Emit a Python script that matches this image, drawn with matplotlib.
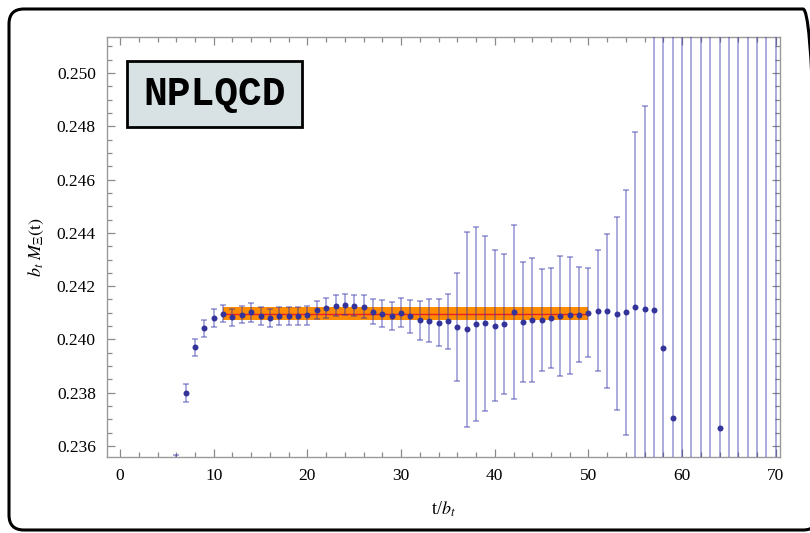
#!/usr/bin/env python
# coding: utf-8
"""
Effective mass plot b_t M_Xi(t) vs t/b_t with the fitted plateau band
"""

import matplotlib.pyplot as plt
import matplotlib as mpl
from matplotlib.patches import FancyBboxPatch, Rectangle
import numpy as np

# data
t_values = list(range(6, 71))
meff = [0.2352, 0.23800, 0.23971, 0.24042, 0.24081, 0.24097, 0.24083, 0.24093, 0.24102, 0.24089,
        0.24082, 0.24089, 0.24088, 0.24088, 0.24090, 0.24110, 0.24117, 0.24126, 0.24130, 0.24127,
        0.24123, 0.24104, 0.24096, 0.24088, 0.24101, 0.24087, 0.24072, 0.24070, 0.24063, 0.24068,
        0.24046, 0.24038, 0.24058, 0.24061, 0.24052, 0.24059, 0.24103, 0.24066, 0.24073, 0.24073,
        0.24082, 0.24089, 0.24091, 0.24093, 0.24100, 0.24107, 0.24107, 0.24097, 0.24102, 0.24120,
        0.24115, 0.24110, 0.23967, 0.23707, 0.2300, 0.2285, 0.2310, 0.2330, 0.23669, 0.2320,
        0.2290, 0.2300, 0.2280, 0.2310, 0.2290]
meff_err = [0.00045, 0.00033, 0.00032, 0.00032, 0.00033, 0.00033, 0.00033, 0.00033, 0.00035, 0.00034,
            0.00034, 0.00034, 0.00034, 0.00034, 0.00036, 0.00034, 0.00037, 0.00039, 0.00039, 0.00040,
            0.00042, 0.00046, 0.00051, 0.00054, 0.00054, 0.00061, 0.00073, 0.00081, 0.00088, 0.00103,
            0.00203, 0.00365, 0.00363, 0.00329, 0.00282, 0.00263, 0.00325, 0.00226, 0.00232, 0.00192,
            0.00188, 0.00226, 0.00220, 0.00178, 0.00167, 0.00227, 0.00290, 0.00361, 0.00460, 0.0066,
            0.0076, 0.0120, 0.0140, 0.0170, 0.0300, 0.0310, 0.0300, 0.0300, 0.0200, 0.0300,
            0.0320, 0.0310, 0.0330, 0.0310, 0.0320]

fit_range = [11, 50]
fit_value = 0.24097
fit_err = 0.000255


def plot_effective_mass():
    mpl.rcParams["font.family"] = "Liberation Serif"
    mpl.rcParams["mathtext.fontset"] = "stix"
    fig = plt.figure(figsize=(8.1, 5.33), dpi=100)
    ax = fig.add_axes([0.132, 0.1426, 0.831, 0.788])
    # plateau fit band
    ax.fill_between(fit_range, fit_value - fit_err, fit_value + fit_err, color="#ff8c00", lw=0, zorder=1)
    ax.plot(fit_range, [fit_value, fit_value], color="#e8202a", lw=1.0, zorder=2)
    # effective mass points
    ax.errorbar(t_values, meff, yerr=meff_err, fmt="none", ecolor="#3333aa", alpha=0.48,
                elinewidth=1.2, capsize=2.4, capthick=1.2, zorder=3)
    ax.plot(t_values, meff, "o", color="#33339a", ms=4.3, mec="none", zorder=4)
    #
    ax.set_xlim(-1.4, 70.45)
    ax.set_ylim(0.23559, 0.25135)
    ax.set_xticks(np.arange(0, 71, 10))
    ax.set_xticks(np.arange(0, 71, 2), minor=True)
    ax.set_yticks(np.arange(0.236, 0.2505, 0.002))
    ax.set_yticks(np.arange(0.236, 0.2512, 0.0005), minor=True)
    ax.yaxis.set_major_formatter(mpl.ticker.FormatStrFormatter("%.3f"))
    for s in ax.spines.values():
        s.set_color("#9a9a9a")
        s.set_linewidth(1.0)
    ax.tick_params(which="both", direction="in", top=True, right=True, color="#8a8a8a",
                   labelsize=12.5, width=0.9)
    ax.tick_params(which="major", length=6, pad=8)
    ax.tick_params(which="minor", length=3.5)
    ax.set_xlabel(r"t/$b_t$", fontsize=13, labelpad=11)
    ax.set_ylabel(r"$b_t\ M_\Xi(\mathrm{t})$", fontsize=13, labelpad=8)
    # NPLQCD label box (pixel layout, in inches)
    box = Rectangle((1.27, 4.06), 1.75, 0.66, transform=fig.dpi_scale_trans,
                    fc="#d8e1e4", ec="black", lw=2, zorder=10)
    fig.patches.append(box)
    fig.text(2.145 / 8.1, 4.39 / 5.33, "NPLQCD", ha="center", va="center",
             family="Liberation Mono", weight="bold", fontsize=28.5, zorder=11)
    # rounded outer frame, right side runs off the picture
    frame = FancyBboxPatch((0.09, 0.03), 8.09, 5.21, boxstyle="round,pad=0,rounding_size=0.15",
                           transform=fig.dpi_scale_trans, fc="none", ec="black", lw=2.2)
    fig.patches.append(frame)
    return fig


if __name__ == "__main__":
    fig = plot_effective_mass()
    fig.savefig("out.png", dpi=100)
